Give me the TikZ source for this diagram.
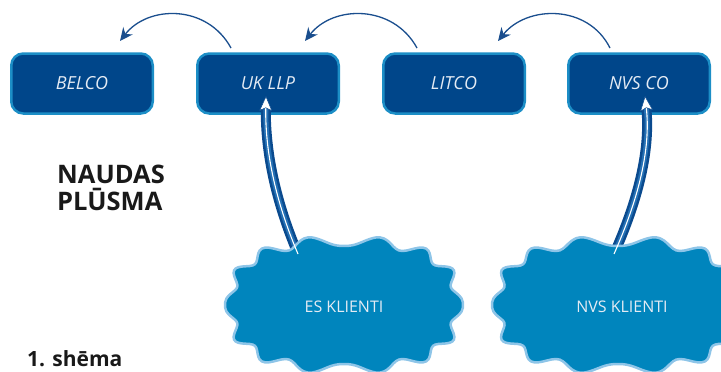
\documentclass[tikz,border=0pt]{standalone}
\usepackage{fontspec}
\setmainfont{Open Sans}
\usetikzlibrary{arrows.meta}
\definecolor{boxfill}{HTML}{00468A}
\definecolor{boxedge}{HTML}{1C8EC6}
\definecolor{cloudfill}{HTML}{0085BD}
\definecolor{cloudedge}{HTML}{8EC5E8}
\definecolor{arrowblue}{HTML}{1A4E8E}
\definecolor{banddark}{HTML}{0A4A8E}
\definecolor{bandlight}{HTML}{2470B4}
\definecolor{boxtext}{HTML}{E4EBF4}
\tikzset{
  declare function={spx(\t)=(cos(\t)>=0?1:-1)*abs(cos(\t))^0.8;
                    spy(\t)=(sin(\t)>=0?1:-1)*abs(sin(\t))^0.8;},
  entity/.style={draw=boxedge, fill=boxfill, line width=2.5pt, rounded corners=12pt,
    minimum width=141.5pt, minimum height=60pt, inner sep=0pt,
    text=boxtext, font=\fontsize{18}{20}\selectfont\itshape},
  flow/.style={draw=arrowblue, line width=1.3pt, -{Stealth[length=13pt,width=12pt]}},
  bandouter/.style={draw=banddark, line width=10pt, shorten >=10pt},
  bandinner/.style={draw=bandlight, line width=5pt, shorten >=10pt},
  bandcore/.style={draw=white, line width=1.1pt,
    -{Stealth[length=15pt,width=13pt,inset=3pt,line width=0.5pt,color=banddark,fill=white]}},
  cloudbody/.style={fill=cloudfill, draw=cloudedge, line width=2.5pt},
  cloudtext/.style={text=boxtext, font=\fontsize{16}{18}\selectfont},
  title/.style={font=\fontsize{25.5}{27}\selectfont\bfseries, text=black!90, inner sep=0pt},
}
\newcommand\wavycloud[4]{%
  \draw[cloudbody] plot[smooth cycle, domain=1:359, samples=180, variable=\t]
    ({#1+(#3+5*cos(14*\t))*spx(\t)},{#2+(#4+5*cos(14*\t))*spy(\t)});}
\begin{document}
\begin{tikzpicture}[x=1pt,y=-1pt]
\useasboundingbox (0,0) rectangle (721,372);
\clip (0,0) rectangle (721,372);

% boxes
\node[entity] (belco) at (82,83.5) {BELCO};
\node[entity] (uk) at (268,83.5) {UK LLP};
\node[entity] (litco) at (454,83.5) {LITCO};
\node[entity] (nvsco) at (639,83.5) {NVS CO};

% top flow arrows
\coordinate (ukOut) at (231,48);
\coordinate (belIn) at (120,41);
\coordinate (litOut) at (417,48);
\coordinate (ukIn2) at (305,41);
\coordinate (nvsOut) at (610,48);
\coordinate (litIn) at (498,41);
\draw[flow] (ukOut) .. controls (207,4) and (148,5) .. (belIn);
\draw[flow] (litOut) .. controls (393,4) and (333,5) .. (ukIn2);
\draw[flow] (nvsOut) .. controls (588,4) and (527,5) .. (litIn);

% client bands
\coordinate (esOut) at (298,254);
\coordinate (ukIn) at (266,96);
\coordinate (nvOut) at (614,254);
\coordinate (nvsIn) at (645,96);
\draw[bandouter] (esOut) .. controls (275,200) and (265,150) .. (ukIn);
\draw[bandinner] (esOut) .. controls (275,200) and (265,150) .. (ukIn);
\draw[bandouter] (nvOut) .. controls (638,200) and (651,150) .. (nvsIn);
\draw[bandinner] (nvOut) .. controls (638,200) and (651,150) .. (nvsIn);

% clouds
\wavycloud{344}{305}{114}{64}
\wavycloud{618}{305}{121}{64}
\node[cloudtext] (es) at (344,307) {ES KLIENTI};
\node[cloudtext] (nvs) at (622,307) {NVS KLIENTI};

% white cores with heads
\draw[bandcore] (esOut) .. controls (275,200) and (265,150) .. (ukIn);
\draw[bandcore] (nvOut) .. controls (638,200) and (651,150) .. (nvsIn);

% titles
\node[title, anchor=base west] (t1) at (57,183) {NAUDAS};
\node[title, anchor=base west] (t2) at (57,210) {PLŪSMA};
\node[anchor=base west, inner sep=0pt, font=\fontsize{21}{24}\selectfont\bfseries, text=black!90] (cap) at (27,366) {1. shēma};
\end{tikzpicture}
\end{document}
